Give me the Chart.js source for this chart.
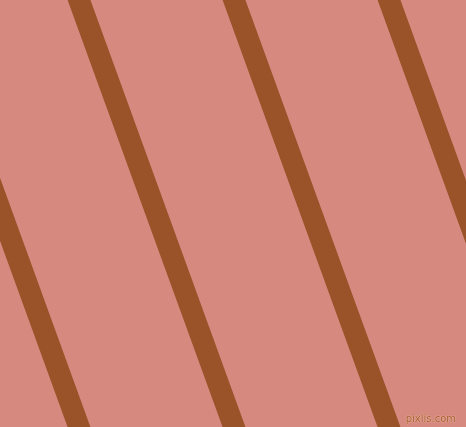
<!DOCTYPE html>
<html>
<head>
<meta charset="utf-8">
<script src="https://cdn.jsdelivr.net/npm/chart.js@4"></script>
<style>
  html, body { margin: 0; padding: 0; background: #d68a7f; overflow: hidden; }
  #wrap { position: relative; width: 466px; height: 427px; }
  #mark {
    position: absolute; right: 10px; bottom: 3px;
    font: 10px "DejaVu Sans", sans-serif; color: #a65a30;
    text-shadow: 0 0 1px #f2c8b0, 0 0 1px #f2c8b0;
  }
</style>
</head>
<body>
<div id="wrap">
  <canvas id="chart" width="466" height="427"></canvas>
  <div id="mark">pixlis.com</div>
</div>
<script>
  // stripe positions, x at the top edge and x at the bottom edge
  var yEnds = [0, 427];
  var stripeTopX = [-76, 79, 234, 389];
  var stripeBottomX = [79, 234, 389, 544];
  var stripeColor = '#9a5229';

  var datasets = stripeTopX.map(function (x0, i) {
    return {
      data: [{x: x0, y: yEnds[0]}, {x: stripeBottomX[i], y: yEnds[1]}],
      borderColor: stripeColor,
      borderWidth: 21.5,
      borderCapStyle: 'square',
      pointRadius: 0,
      fill: false,
      tension: 0
    };
  });

  new Chart('chart', {
    type: 'line',
    data: { datasets: datasets },
    options: {
      responsive: false,
      animation: false,
      layout: { padding: 0 },
      scales: {
        x: { type: 'linear', min: 0, max: 466, display: false },
        y: { type: 'linear', min: 0, max: 427, reverse: true, display: false }
      },
      plugins: {
        legend: { display: false },
        tooltip: { enabled: false }
      }
    }
  });
</script>
</body>
</html>
